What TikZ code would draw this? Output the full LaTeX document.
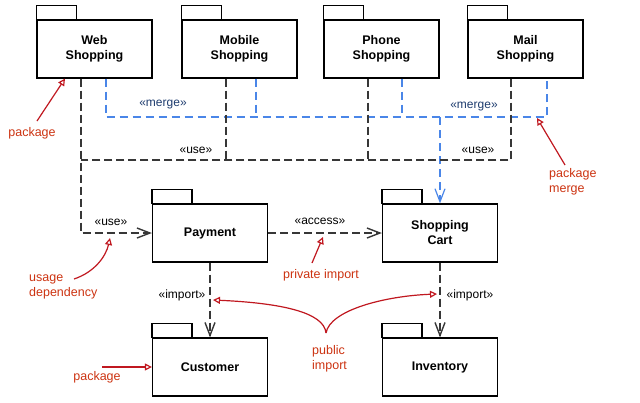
\documentclass[tikz,border=0pt]{standalone}
\usepackage{fontspec}
\setmainfont{Liberation Sans}
\usetikzlibrary{arrows.meta,calc}
\definecolor{annred}{RGB}{204,51,17}
\definecolor{arrred}{RGB}{192,24,32}
\definecolor{mblue}{RGB}{74,134,232}
\definecolor{mtext}{RGB}{30,60,110}
\definecolor{dline}{RGB}{55,55,55}
\begin{document}
\begin{tikzpicture}[x=1pt,y=-1pt,
 pkg/.style={draw=black, line width=1.2pt, minimum width=115pt, minimum height=58pt, inner sep=0pt, font=\fontsize{12.5}{15}\selectfont\bfseries, align=center},
 tabbox/.style={draw=black, line width=1.2pt},
 usedep/.style={draw=dline, line width=1.4pt, dash pattern=on 8pt off 4pt},
 mergedep/.style={draw=mblue, line width=1.2pt, dash pattern=on 8pt off 5pt},
 vtip/.style={-{Straight Barb[length=13pt,width=10pt]}},
 stereo/.style={font=\fontsize{12}{14}\selectfont, text=black, inner sep=0pt},
 mstereo/.style={font=\fontsize{12}{14}\selectfont, text=mtext, inner sep=0pt},
 ann/.style={text=annred, font=\fontsize{12.5}{15}\selectfont, inner sep=0pt, align=left},
 annarrow/.style={draw=arrred, line width=1.2pt, -{Triangle[open,length=7pt,width=7pt]}},
]
\useasboundingbox (0,0) rectangle (640,402);
% packages
\node[pkg] (web) at (94.5,49) {Web\\Shopping};
\node[pkg] (mobile) at (239.5,49) {Mobile\\Shopping};
\node[pkg] (phone) at (381.5,49) {Phone\\Shopping};
\node[pkg] (mail) at (525.5,49) {Mail\\Shopping};
\node[pkg] (payment) at (210,233) {Payment};
\node[pkg] (cart) at (440,233) {Shopping\\Cart};
\node[pkg] (customer) at (210,367) {Customer};
\node[pkg] (inventory) at (440,367) {Inventory};
\foreach \n in {web,mobile,phone,mail,payment,cart,customer,inventory}
  \draw[tabbox] (\n.north west) rectangle ++(40pt,14pt);
% helper coordinates
\coordinate (usey) at (0,160);
\coordinate (mergey) at (0,117);
\coordinate (wb) at ([xshift=-13.5pt]web.south);
\coordinate (mb) at ([xshift=-13.5pt]mobile.south);
\coordinate (pb) at ([xshift=-13.5pt]phone.south);
\coordinate (lb) at ([xshift=-14.5pt]mail.south);
\coordinate (wbl) at ([xshift=11.5pt]web.south);
\coordinate (mbl) at ([xshift=16.5pt]mobile.south);
\coordinate (pbl) at ([xshift=20.5pt]phone.south);
\coordinate (lbl) at ([xshift=21.5pt]mail.south);
% merge connectors
\draw[mergedep] (wbl) |- (lbl |- mergey) -- (lbl);
\draw[mergedep] (mbl) -- (mbl |- mergey);
\draw[mergedep] (pbl) -- (pbl |- mergey);
\draw[mergedep, vtip] (cart.north |- mergey) -- (cart.north);
% use connectors
\draw[usedep, vtip] (wb) |- (payment.west);
\draw[usedep] (lb) -- (lb |- usey) -- (wb |- usey);
\draw[usedep] (mb) -- (mb |- usey);
\draw[usedep] (pb) -- (pb |- usey);
\draw[usedep, vtip] (payment.east) -- (cart.west);
\draw[usedep, vtip] (payment.south) -- (customer.north);
\draw[usedep, vtip] (cart.south) -- (inventory.north);
% stereotypes
\node[mstereo] (m1) at (163,105) {«merge»};
\node[mstereo] (m2) at (474,107) {«merge»};
\node[stereo] (u1) at (196,150) {«use»};
\node[stereo] (u2) at (478,150) {«use»};
\node[stereo] (u3) at (111,222) {«use»};
\node[stereo] (ac) at (320,221) {«access»};
\node[stereo] (i1) at (182,295) {«import»};
\node[stereo] (i2) at (470,295) {«import»};
% annotations
\node[ann] (a1) at (32,133) {package};
\node[ann, anchor=west] (a2) at (549,182) {package\\merge};
\node[ann, anchor=west] (a3) at (29,286.5) {usage\\dependency};
\node[ann] (a4) at (321,275) {private import};
\node[ann, anchor=west] (a5) at (312,359) {public\\import};
\node[ann] (a6) at (97,377) {package};
\coordinate (s1) at (37,121);
\coordinate (s2) at (565,165);
\coordinate (t2) at (537,118);
\coordinate (s3) at (74,279);
\coordinate (t3) at (110,238);
\coordinate (s4) at (312,263);
\coordinate (t4) at (323,237);
\coordinate (cusp) at (326,333);
\coordinate (t5a) at (213,300);
\coordinate (t5b) at (437,294);
\coordinate (s6) at (102,367);
\draw[annarrow] (s1) -- ([xshift=-29.5pt]web.south);
\draw[annarrow] (s2) -- (t2);
\draw[annarrow] (s3) .. controls (95,272) and (106,256) .. (t3);
\draw[annarrow] (s4) -- (t4);
\draw[annarrow] (cusp) .. controls (324,312) and (280,303) .. (t5a);
\draw[annarrow] (cusp) .. controls (330,310) and (385,296) .. (t5b);
\draw[annarrow] (s6) -- (customer.west);
\end{tikzpicture}
\end{document}
